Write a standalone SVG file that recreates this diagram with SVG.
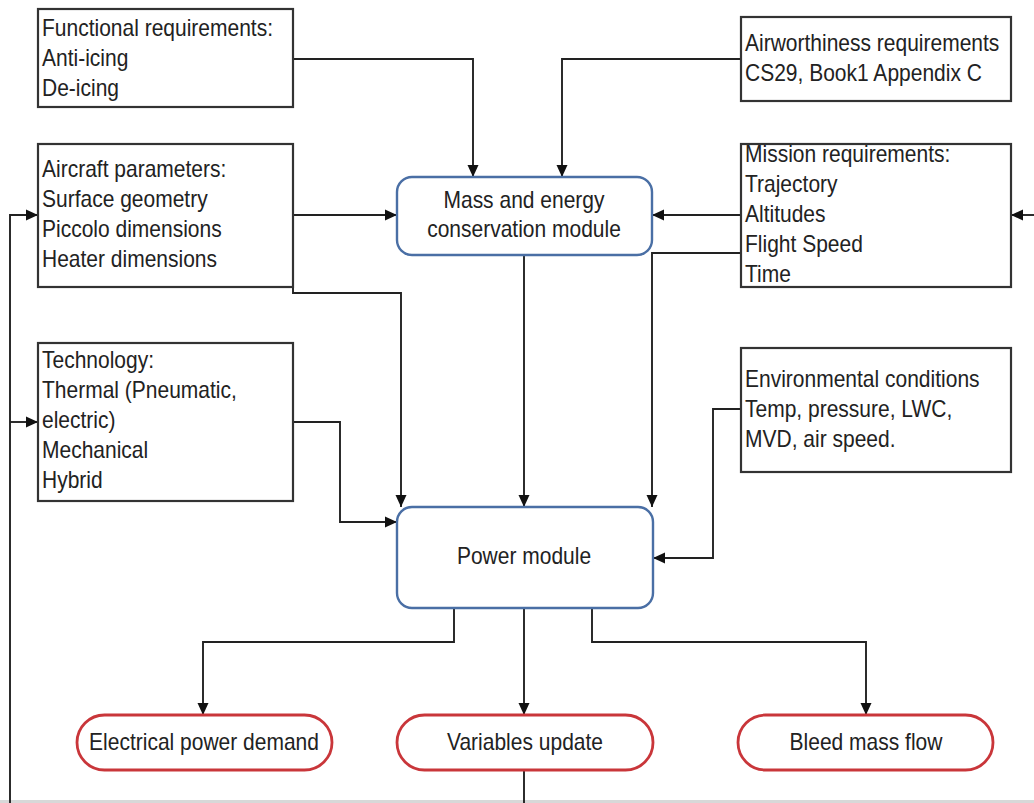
<svg xmlns="http://www.w3.org/2000/svg" width="1034" height="803" viewBox="0 0 1034 803">
<style>
  .box { fill: #ffffff; stroke: #333333; stroke-width: 2.2; }
  .mod { fill: #ffffff; stroke: #4a6fa5; stroke-width: 2.4; }
  .out { fill: #ffffff; stroke: #c9363a; stroke-width: 2.8; }
  .t { font-family: "Liberation Sans", Arial, sans-serif; font-size: 23px; fill: #222222; }
  .c { text-anchor: middle; }
  .ln { fill: none; stroke: #222222; stroke-width: 1.9; }
</style>
<defs>
  <marker id="arr" markerUnits="userSpaceOnUse" markerWidth="12" markerHeight="12" viewBox="0 0 12 12" refX="12" refY="6" orient="auto">
    <path d="M0,0.5 L12,6 L0,11.5 Z" fill="#111111"/>
  </marker>
</defs>
<rect x="0" y="800" width="1034" height="3" fill="#d8d8d8"/>

<g id="connectors">
  <path class="ln" d="M293,59 H473 V177" marker-end="url(#arr)"/>
  <path class="ln" d="M741,59 H562 V177" marker-end="url(#arr)"/>
  <path class="ln" d="M293,215 H397" marker-end="url(#arr)"/>
  <path class="ln" d="M741,215 H652" marker-end="url(#arr)"/>
  <path class="ln" d="M741,253 H652 V507" marker-end="url(#arr)"/>
  <path class="ln" d="M524,255 V507" marker-end="url(#arr)"/>
  <path class="ln" d="M293,258 V293 H401 V507" marker-end="url(#arr)"/>
  <path class="ln" d="M293,422 H340 V522 H397" marker-end="url(#arr)"/>
  <path class="ln" d="M741,409 H713 V558 H653" marker-end="url(#arr)"/>
  <path class="ln" d="M454,608 V642 H203 V715" marker-end="url(#arr)"/>
  <path class="ln" d="M524,608 V715" marker-end="url(#arr)"/>
  <path class="ln" d="M592,608 V642 H866 V715" marker-end="url(#arr)"/>
  <path class="ln" d="M524,770 V803"/>
  <path class="ln" d="M10,803 V215 H38" marker-end="url(#arr)"/>
  <path class="ln" d="M10,422 H38" marker-end="url(#arr)"/>
  <path class="ln" d="M1034,215 H1011" marker-end="url(#arr)"/>
</g>

<g id="functional">
  <rect class="box" x="38" y="9" width="255" height="98"/>
  <g transform="translate(42 0) scale(0.913 1) translate(-42 0)">
    <text class="t" x="42" y="36">Functional requirements:</text>
    <text class="t" x="42" y="66">Anti-icing</text>
    <text class="t" x="42" y="96">De-icing</text>
  </g>
</g>

<g id="aircraft">
  <rect class="box" x="38" y="144" width="255" height="143"/>
  <g transform="translate(42 0) scale(0.913 1) translate(-42 0)">
    <text class="t" x="42" y="177">Aircraft parameters:</text>
    <text class="t" x="42" y="207">Surface geometry</text>
    <text class="t" x="42" y="237">Piccolo dimensions</text>
    <text class="t" x="42" y="267">Heater dimensions</text>
  </g>
</g>

<g id="technology">
  <rect class="box" x="38" y="343" width="255" height="158"/>
  <g transform="translate(42 0) scale(0.913 1) translate(-42 0)">
    <text class="t" x="42" y="368">Technology:</text>
    <text class="t" x="42" y="398">Thermal (Pneumatic,</text>
    <text class="t" x="42" y="428">electric)</text>
    <text class="t" x="42" y="458">Mechanical</text>
    <text class="t" x="42" y="488">Hybrid</text>
  </g>
</g>

<g id="airworthiness">
  <rect class="box" x="741" y="17" width="270" height="84"/>
  <g transform="translate(745 0) scale(0.913 1) translate(-745 0)">
    <text class="t" x="745" y="51">Airworthiness requirements</text>
    <text class="t" x="745" y="81">CS29, Book1 Appendix C</text>
  </g>
</g>

<g id="mission">
  <rect class="box" x="741" y="144" width="270" height="143"/>
  <g transform="translate(745 0) scale(0.913 1) translate(-745 0)">
    <text class="t" x="745" y="162">Mission requirements:</text>
    <text class="t" x="745" y="192">Trajectory</text>
    <text class="t" x="745" y="222">Altitudes</text>
    <text class="t" x="745" y="252">Flight Speed</text>
    <text class="t" x="745" y="282">Time</text>
  </g>
</g>

<g id="environmental">
  <rect class="box" x="741" y="348" width="270" height="124"/>
  <g transform="translate(745 0) scale(0.913 1) translate(-745 0)">
    <text class="t" x="745" y="387">Environmental conditions</text>
    <text class="t" x="745" y="417">Temp, pressure, LWC,</text>
    <text class="t" x="745" y="447">MVD, air speed.</text>
  </g>
</g>

<g id="mass-energy">
  <rect class="mod" x="397" y="177" width="255" height="78" rx="15" ry="15"/>
  <g transform="translate(524 0) scale(0.913 1) translate(-524 0)">
    <text class="t c" x="524" y="208">Mass and energy</text>
    <text class="t c" x="524" y="237">conservation module</text>
  </g>
</g>

<g id="power">
  <rect class="mod" x="397" y="507" width="256" height="101" rx="15" ry="15"/>
  <g transform="translate(524 0) scale(0.913 1) translate(-524 0)">
    <text class="t c" x="524" y="564">Power module</text>
  </g>
</g>

<g id="electrical">
  <rect class="out" x="77" y="715" width="255" height="55" rx="27.5" ry="27.5"/>
  <g transform="translate(204 0) scale(0.913 1) translate(-204 0)">
    <text class="t c" x="204" y="750">Electrical power demand</text>
  </g>
</g>

<g id="variables">
  <rect class="out" x="397" y="715" width="256" height="55" rx="27.5" ry="27.5"/>
  <g transform="translate(525 0) scale(0.913 1) translate(-525 0)">
    <text class="t c" x="525" y="750">Variables update</text>
  </g>
</g>

<g id="bleed">
  <rect class="out" x="738" y="715" width="255" height="55" rx="27.5" ry="27.5"/>
  <g transform="translate(866 0) scale(0.913 1) translate(-866 0)">
    <text class="t c" x="866" y="750">Bleed mass flow</text>
  </g>
</g>
</svg>
